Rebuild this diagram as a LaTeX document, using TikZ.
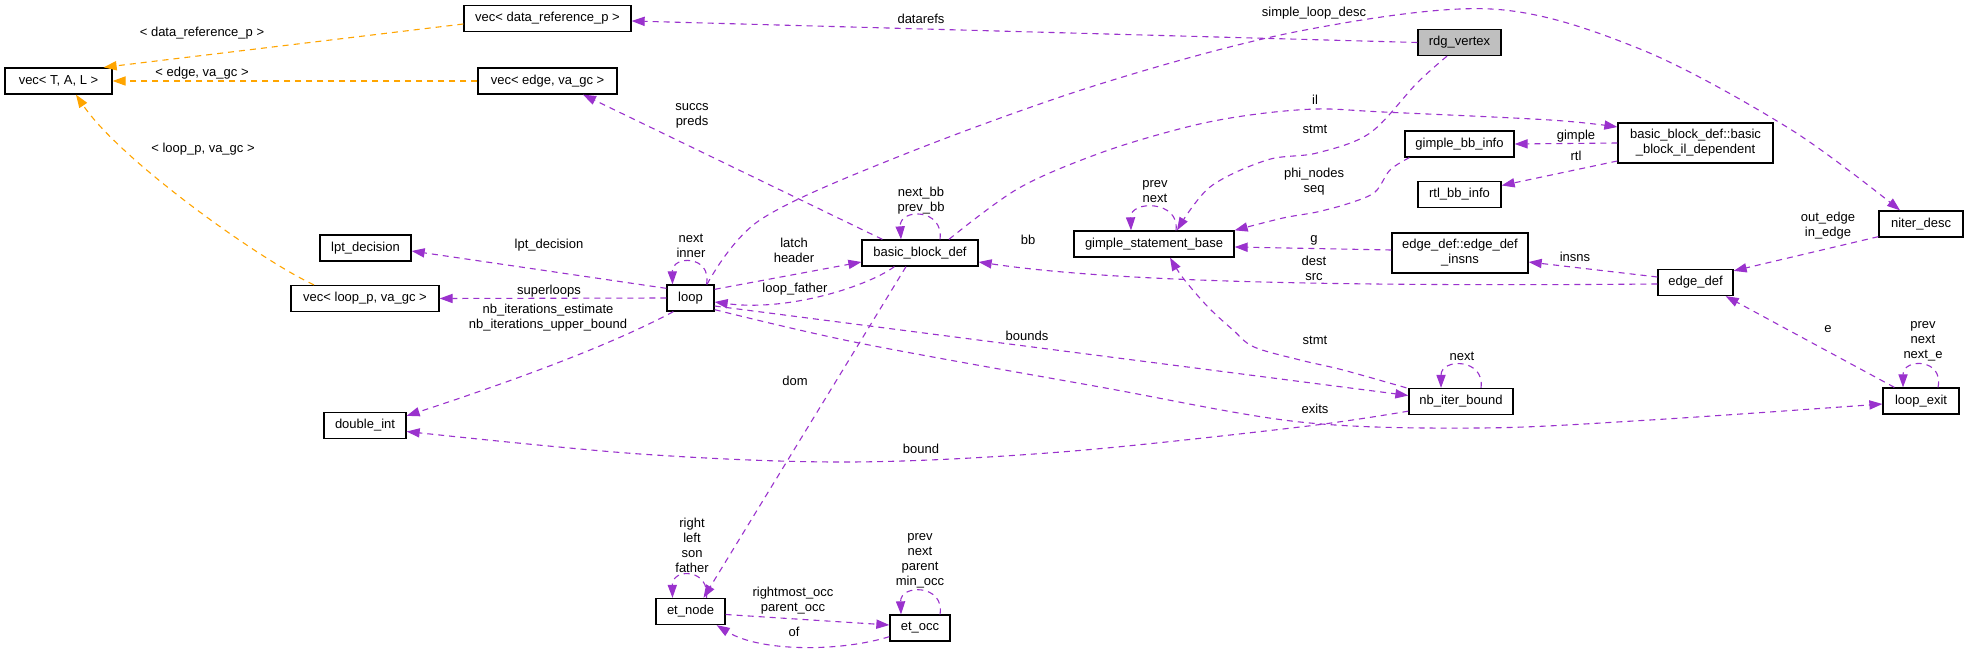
\documentclass[tikz,border=0pt]{standalone}
\usepackage{fontspec}
\setmainfont{Liberation Sans}
\usetikzlibrary{arrows.meta,calc}
\definecolor{edgepurple}{HTML}{9A32CD}
\definecolor{edgeorange}{HTML}{FFA500}
\definecolor{mainfill}{HTML}{BFBFBF}
\newcommand{\lblfont}{\fontsize{6.5}{7.5}\selectfont}
\begin{document}
\begin{tikzpicture}[x=0.5pt,y=-0.5pt,
  cls/.style={draw=black,line width=0.65pt,fill=white,inner sep=0pt,font=\lblfont,align=center,minimum height=13pt},
  rel/.style={draw=edgepurple,line width=0.55pt,dash pattern=on 3pt off 2.5pt,-{Triangle[length=6.5pt,width=4.6pt]}},
  inst/.style={rel,draw=edgeorange},
  lbl/.style={font=\lblfont,align=center,inner sep=0pt}]
\fill[white] (0,0) rectangle (1968,652);
\useasboundingbox (0,0) rectangle (1968,652);

% nodes
\node[cls,minimum width=83.5pt] (vdr) at (547.5,18.5) {vec< data\_reference\_p >};
\node[cls,minimum width=53.5pt] (vtal) at (58.5,81) {vec< T, A, L >};
\node[cls,minimum width=69.5pt] (vedge) at (547.5,81) {vec< edge, va\_gc >};
\node[cls,minimum width=45.5pt] (lpt) at (365.5,248) {lpt\_decision};
\node[cls,minimum width=74pt] (vloop) at (365,298.5) {vec< loop\_p, va\_gc >};
\node[cls,minimum width=41pt] (dint) at (365,425.5) {double\_int};
\node[cls,minimum width=23.5pt] (loop) at (690.5,298) {loop};
\node[cls,minimum width=58pt] (bbd) at (920,253) {basic\_block\_def};
\node[cls,minimum width=80pt] (gsb) at (1154,244) {gimple\_statement\_base};
\node[cls,minimum width=41.5pt,fill=mainfill] (rdg) at (1459.5,42.5) {rdg\_vertex};
\node[cls,minimum width=54.5pt] (gbb) at (1459.5,144) {gimple\_bb\_info};
\node[cls,minimum width=77.5pt,minimum height=20pt] (bbil) at (1695.5,143) {basic\_block\_def::basic\\\_block\_il\_dependent};
\node[cls,minimum width=41.5pt] (rtl) at (1459.5,194.5) {rtl\_bb\_info};
\node[cls,minimum width=68pt,minimum height=20pt] (edi) at (1460,253) {edge\_def::edge\_def\\\_insns};
\node[cls,minimum width=37.5pt] (edge) at (1695.5,282.5) {edge\_def};
\node[cls,minimum width=42pt] (niter) at (1921,224) {niter\_desc};
\node[cls,minimum width=52pt] (nib) at (1461,401.5) {nb\_iter\_bound};
\node[cls,minimum width=38pt] (lexit) at (1921,401) {loop\_exit};
\node[cls,minimum width=34.5pt] (etn) at (690.5,611.5) {et\_node};
\node[cls,minimum width=30pt] (eto) at (920,628) {et\_occ};

% helper coordinates on node borders
\coordinate (s0) at ($(loop.north)+(16.5,0)$);
\coordinate (s1) at ($(niter.north)+(-21,0)$);
\coordinate (r0) at ($(rdg.south)+(-12.5,0)$);
\coordinate (r1) at ($(gsb.north)+(23,0)$);
\coordinate (i0) at ($(bbd.north)+(29,0)$);
\coordinate (i1) at ($(bbil.west)+(0,-16)$);
\coordinate (p0) at ($(gbb.south west)+(5,0)$);
\coordinate (p1) at ($(gsb.north east)+(0,0)$);
\coordinate (x0) at ($(loop.south east)+(0,-2)$);
\coordinate (x1) at ($(lexit.west)+(0,3)$);
\coordinate (b0) at ($(nib.south west)+(0,-4)$);
\coordinate (b1) at ($(dint.east)+(0,6)$);
\coordinate (t0) at ($(nib.north west)+(-2,0)$);
\coordinate (t1) at ($(gsb.south)+(16,0)$);

% orange template edges
\draw[inst] ($(vdr.west)+(0,5.5)$) -- ($(vtal.north east)+(-9,0)$);
\draw[inst] (vedge.west) -- (vtal.east);
\draw[inst] ($(vloop.north)+(-51,0)$) .. controls (260,260) and (120,160) .. ($(vtal.south)+(17.5,0)$);

% purple edges
\draw[rel] (rdg.west) -- ($(vdr.east)+(0,2.5)$);
\draw[rel] plot[smooth,tension=0.55] coordinates {(s0) (760,220) (900,156) (1100,84) (1300,31) (1491,9) (1640,49) (1790,129) (s1)};
\draw[rel] plot[smooth,tension=0.55] coordinates {(r0) (1417,83) (1370,133) (1317,153) (1267,160) (1210,187) (r1)};
\draw[rel] plot[smooth,tension=0.55] coordinates {(i0) (1019,188) (1103,152) (1187,127) (1250,115) (1317,109) (1383,112) (1550,120) (i1)};
\draw[rel] (bbil.west) -- (gbb.east);
\draw[rel] ($(bbil.west)+(0,18)$) -- ($(rtl.east)+(0,-9)$);
\draw[rel] ($(gsb.north)+(22,0)$) .. controls (1180,200) and (1130,200) .. ($(gsb.north)+(-23,0)$);
\draw[rel] plot[smooth,tension=0.55] coordinates {(p0) (1390,170) (1375,192) (1350,203) (1317,212) (1283,218) (p1)};
\draw[rel] ($(edi.west)+(0,-3)$) -- ($(gsb.east)+(0,3)$);
\draw[rel] ($(edge.west)+(0,1.5)$) .. controls (1300,287) and (1100,280) .. ($(bbd.east)+(0,9)$);
\draw[rel] ($(edge.west)+(0,-5.5)$) -- ($(edi.east)+(0,9)$);
\draw[rel] ($(niter.south west)+(0,-1)$) -- ($(edge.north east)+(0,2)$);
\draw[rel] ($(lexit.north west)+(12,0)$) -- ($(edge.south east)+(-8,0)$);
\draw[rel] ($(lexit.north)+(17,0)$) .. controls (1944,358) and (1903,358) .. ($(lexit.north)+(-18,0)$);
\draw[rel] plot[smooth,tension=0.55] coordinates {(x0) (859,343) (1100,387) (1300,422) (1480,428) (1650,420) (x1)};
\draw[rel] ($(loop.east)+(0,8)$) -- ($(nib.west)+(0,-6)$);
\draw[rel] plot[smooth,tension=0.55] coordinates {(b0) (1300,427) (1061,452) (850,462) (640,454) (b1)};
\draw[rel] plot[smooth,tension=0.55] coordinates {(t0) (1343,370) (1300,360) (1254,347) (1233,330) (1208,307) (1183,278) (t1)};
\draw[rel] ($(nib.north)+(20,0)$) .. controls (1485,358) and (1441,358) .. ($(nib.north)+(-20,0)$);
\draw[rel] ($(bbd.south west)+(33,0)$) .. controls (870,285) and (790,312) .. ($(loop.east)+(0,4)$);
\draw[rel] ($(loop.north east)+(0,5)$) -- ($(bbd.west)+(0,9)$);
\draw[rel] ($(bbd.north west)+(21,0)$) -- ($(vedge.south)+(35.5,0)$);
\draw[rel] ($(bbd.north)+(20,0)$) .. controls (944,208) and (899,208) .. ($(bbd.north)+(-19,0)$);
\draw[rel] ($(loop.north west)+(0,4)$) -- ($(lpt.east)+(0,3)$);
\draw[rel] (loop.west) -- (vloop.east);
\draw[rel] ($(loop.south west)+(7,0)$) .. controls (620,340) and (540,372) .. ($(dint.north east)+(0,4)$);
\draw[rel] ($(loop.north)+(16,0)$) .. controls (712,255) and (672,255) .. ($(loop.north)+(-18,0)$);
\draw[rel] ($(bbd.south)+(-14,0)$) -- ($(etn.north)+(13,0)$);
\draw[rel] ($(etn.north)+(16,0)$) .. controls (710,568) and (672,568) .. ($(etn.north)+(-18,0)$);
\draw[rel] ($(etn.east)+(0,3)$) -- ($(eto.west)+(0,-3)$);
\draw[rel] ($(eto.south west)+(0,-5)$) .. controls (840,652) and (760,652) .. ($(etn.south east)+(-9,0)$);
\draw[rel] ($(eto.north)+(20,0)$) .. controls (945,584) and (900,584) .. ($(eto.north)+(-19,0)$);

% labels
\node[lbl] (l1) at (202,33) {< data\_reference\_p >};
\node[lbl] (l2) at (202,73) {< edge, va\_gc >};
\node[lbl] (l3) at (203,149) {< loop\_p, va\_gc >};
\node[lbl] (l4) at (921,19) {datarefs};
\node[lbl] (l5) at (1314,13) {simple\_loop\_desc};
\node[lbl] (l6) at (692,115.5) {succs\\preds};
\node[lbl] (l7) at (691,246) {next\\inner};
\node[lbl] (l8) at (794,250) {latch\\header};
\node[lbl] (l9) at (921,200.5) {next\_bb\\prev\_bb};
\node[lbl] (l10) at (795,289) {loop\_father};
\node[lbl] (l11) at (1028,240) {bb};
\node[lbl] (l12) at (1155,191.5) {prev\\next};
\node[lbl] (l13) at (1315,100) {il};
\node[lbl] (l14) at (1315,129) {stmt};
\node[lbl] (l15) at (1576,136) {gimple};
\node[lbl] (l16) at (1576,156) {rtl};
\node[lbl] (l17) at (1314,182) {phi\_nodes\\seq};
\node[lbl] (l18) at (1314,240) {g};
\node[lbl] (l19) at (1314,268.5) {dest\\src};
\node[lbl] (l20) at (1575,257) {insns};
\node[lbl] (l21) at (1828,226) {out\_edge\\in\_edge};
\node[lbl] (l22) at (549,245) {lpt\_decision};
\node[lbl] (l23) at (549,291) {superloops};
\node[lbl] (l24) at (548,318) {nb\_iterations\_estimate\\nb\_iterations\_upper\_bound};
\node[lbl] (l25) at (1027,336) {bounds};
\node[lbl] (l26) at (795,381) {dom};
\node[lbl] (l27) at (921,449) {bound};
\node[lbl] (l28) at (1315,340) {stmt};
\node[lbl] (l29) at (1462,356) {next};
\node[lbl] (l30) at (1315,409) {exits};
\node[lbl] (l31) at (1828,329) {e};
\node[lbl] (l32) at (1923,341.5) {prev\\next\\next\_e};
\node[lbl] (l33) at (692,545) {right\\left\\son\\father};
\node[lbl] (l34) at (920,561) {prev\\next\\parent\\min\_occ};
\node[lbl] (l35) at (793,600.5) {rightmost\_occ\\parent\_occ};
\node[lbl] (l36) at (794,632) {of};
\end{tikzpicture}
\end{document}
